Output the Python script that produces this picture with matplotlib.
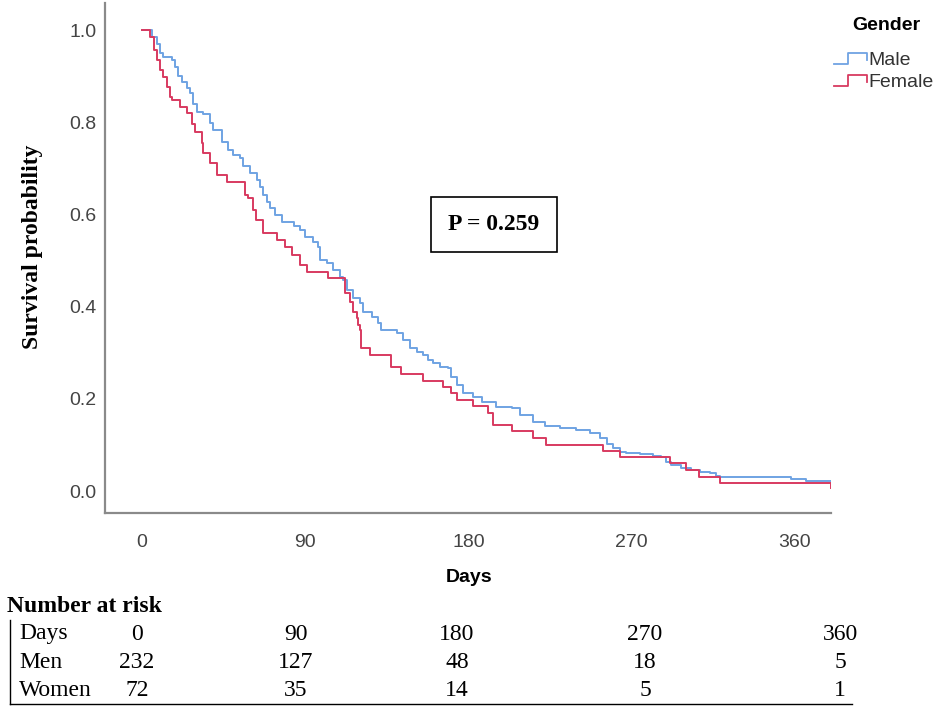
import matplotlib
matplotlib.use("Agg")
import matplotlib.pyplot as plt
from matplotlib.lines import Line2D
from matplotlib.legend_handler import HandlerBase

# Kaplan-Meier steps (days, survival probability)
male_days = [0, 5.3, 8.1, 9.9, 11.7, 16.4, 18.2, 20.0, 21.9, 24.6, 26.5, 28.3, 30.1,
             33.8, 37.5, 39.3, 43.9, 47.6, 50.3, 54.0, 55.8, 59.5, 63.2, 65.0, 66.9,
             68.7, 70.6, 73.3, 77.0, 84.0, 87.1, 89.9, 94.4, 97.2, 98.1, 101.8, 105.5,
             109.2, 111.0, 112.8, 116.5, 120.2, 122.0, 126.6, 130.3, 132.0, 140.4, 144.0,
             147.7, 151.4, 155.0, 157.8, 160.6, 164.3, 168.9, 170.7, 173.5, 177.1, 182.6,
             187.3, 195.5, 203.8, 208.4, 215.7, 222.0, 230.4, 239.6, 247.0, 252.5, 256.2,
             259.8, 263.5, 267.0, 274.5, 281.9, 286.5, 289.0, 292.0, 297.5, 303.0, 307.6,
             313.0, 316.8, 318.6, 358.0, 366.0, 380.0]
male_surv = [1.0, 0.985, 0.97, 0.95, 0.942, 0.935, 0.92, 0.90, 0.888, 0.874, 0.863, 0.84, 0.823,
             0.818, 0.798, 0.783, 0.758, 0.74, 0.729, 0.722, 0.704, 0.69, 0.675, 0.66, 0.642,
             0.628, 0.613, 0.599, 0.584, 0.575, 0.566, 0.552, 0.541, 0.53, 0.501, 0.494, 0.479,
             0.465, 0.458, 0.436, 0.418, 0.407, 0.389, 0.378, 0.364, 0.349, 0.342, 0.328,
             0.31, 0.302, 0.295, 0.284, 0.277, 0.27, 0.266, 0.248, 0.23, 0.212, 0.205,
             0.194, 0.183, 0.179, 0.165, 0.15, 0.14, 0.136, 0.132, 0.125, 0.116, 0.103,
             0.093, 0.085, 0.083, 0.08, 0.076, 0.073, 0.064, 0.056, 0.049, 0.046, 0.042,
             0.038, 0.033, 0.03, 0.025, 0.022, 0.022]

female_days = [0, 4.4, 6.6, 8.1, 9.9, 11.7, 13.6, 15.4, 16.4, 20.9, 24.6, 27.4, 29.2,
               32.9, 33.8, 37.5, 41.2, 46.7, 56.8, 58.6, 61.3, 63.0, 66.8, 74.2, 78.8,
               82.5, 87.1, 90.8, 102.7, 111.7, 114.6, 116.5, 118.4, 119.3, 120.2, 120.6,
               125.7, 137.6, 143.0, 155.0, 166.0, 170.7, 173.5, 182.7, 191.0, 193.7, 203.8,
               215.7, 223.0, 254.0, 263.5, 291.0, 300.0, 307.0, 318.6, 380.0]
female_surv = [1.0, 0.985, 0.957, 0.935, 0.913, 0.899, 0.877, 0.855, 0.848, 0.834, 0.819, 0.797, 0.779,
               0.754, 0.733, 0.711, 0.685, 0.671, 0.642, 0.635, 0.61, 0.588, 0.56, 0.544, 0.53,
               0.512, 0.49, 0.476, 0.463, 0.43, 0.41, 0.389, 0.375, 0.36, 0.35, 0.31,
               0.295, 0.27, 0.254, 0.239, 0.226, 0.212, 0.197, 0.184, 0.169, 0.143, 0.13,
               0.115, 0.10, 0.087, 0.074, 0.06, 0.046, 0.031, 0.018, 0.007]

x_ticks = [0, 90, 180, 270, 360]
y_ticks = [0.0, 0.2, 0.4, 0.6, 0.8, 1.0]
p_text = "P = 0.259"

risk_days = ["0", "90", "180", "270", "360"]
risk_men = ["232", "127", "48", "18", "5"]
risk_women = ["72", "35", "14", "5", "1"]

blue = "#6fa3e3"
red = "#d83a60"
serif = "Liberation Serif"
sans = "Liberation Sans"


class StepHandler(HandlerBase):
    # little step glyph like the SPSS legend
    def create_artists(self, legend, orig_handle, xdescent, ydescent, width, height, fontsize, trans):
        x0, w = -xdescent, width
        y0, h = -ydescent, height
        xs = [x0, x0 + 0.45 * w, x0 + 0.45 * w, x0 + w, x0 + w]
        ys = [y0 + 0.1 * h, y0 + 0.1 * h, y0 + 0.9 * h, y0 + 0.9 * h, y0 + 0.35 * h]
        ln = Line2D(xs, ys, color=orig_handle.get_color(), lw=1.3, transform=trans)
        return [ln]


W, H = 944, 707
fig = plt.figure(figsize=(W / 100, H / 100), dpi=100)
ax = fig.add_axes([105 / W, 1 - 513 / H, (831 - 105) / W, (513 - 3) / H])

l1, = ax.step(male_days, male_surv, where="post", color=blue, lw=1.4, label="Male")
l2, = ax.step(female_days, female_surv, where="post", color=red, lw=1.4, label="Female")

ax.set_xlim(-20.4, 380)
ax.set_ylim(-0.0477, 1.0586)
ax.set_xticks(x_ticks)
ax.set_yticks(y_ticks)
ax.set_yticklabels(["%.1f" % v for v in y_ticks])
for s in ["top", "right"]:
    ax.spines[s].set_visible(False)
for s in ["left", "bottom"]:
    ax.spines[s].set_color("#8a8a8a")
    ax.spines[s].set_linewidth(1.6)
ax.tick_params(axis="both", length=0, labelsize=14, labelcolor="#444444")
ax.tick_params(axis="y", pad=6)
ax.tick_params(axis="x", pad=15)
for lab in ax.get_xticklabels() + ax.get_yticklabels():
    lab.set_fontfamily(sans)

fig.text(886 / W, 1 - 25 / H, "Gender", family=sans, weight="bold", size=14,
         ha="center", va="center")
leg = fig.legend(handles=[l1, l2], loc="upper left",
                 bbox_to_anchor=(818 / W, 1 - 36 / H), frameon=False,
                 handler_map={Line2D: StepHandler()},
                 prop={"family": sans, "size": 14}, handlelength=1.7,
                 handletextpad=0.1, labelspacing=0.22, borderpad=0.3)
for t in leg.get_texts():
    t.set_color("#333333")

fig.text(494 / W, 1 - 224.5 / H, p_text, family=serif, weight="bold", size=17,
         ha="center", va="center",
         bbox=dict(boxstyle="square,pad=0.72", fc="white", ec="black", lw=1.2))

fig.text(33 / W, 1 - 247 / H, "Survival probability", family=serif, weight="bold",
         size=17, rotation=90, ha="center", va="center")
fig.text(469 / W, 1 - 577 / H, "Days", family=sans, weight="bold", size=14,
         ha="center", va="center")

# number at risk table
fig.text(7 / W, 1 - 606 / H, "Number at risk", family=serif, weight="bold", size=17,
         ha="left", va="center")
col_x = [137, 296, 457, 645, 840]
rows = [("Days", risk_days, 634), ("Men", risk_men, 662), ("Women", risk_women, 690)]
for name, vals, yy in rows:
    fig.text(19 / W, 1 - yy / H, name, family=serif, size=17, ha="left", va="center")
    for cx, v in zip(col_x, vals):
        fig.text(cx / W, 1 - yy / H, v, family=serif, size=17, ha="center", va="center")
fig.add_artist(Line2D([10 / W, 10 / W], [1 - 620 / H, 1 - 704 / H], color="black", lw=1.0))
fig.add_artist(Line2D([10 / W, 852 / W], [1 - 704 / H, 1 - 704 / H], color="black", lw=1.0))

fig.savefig("out.png", dpi=100)
